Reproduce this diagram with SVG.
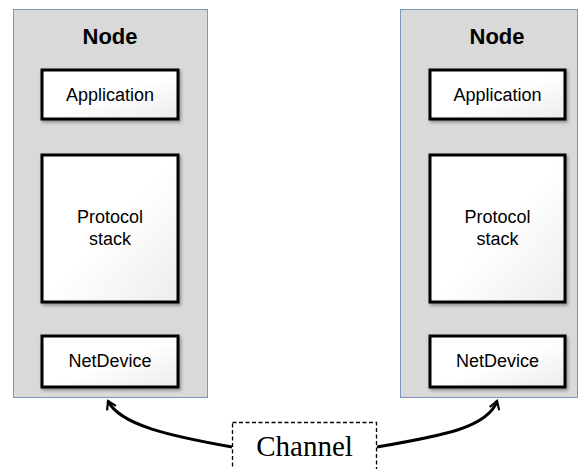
<svg xmlns="http://www.w3.org/2000/svg" width="584" height="469" viewBox="0 0 584 469">
<style>
.panel{fill:#d9d9d9;stroke:#7a96bd;stroke-width:1}
.box{fill:url(#bev);stroke:#000;stroke-width:3}
.t{font-family:"Liberation Sans",Arial,sans-serif;font-size:18px;fill:#000;text-anchor:middle}
.h{font-family:"Liberation Sans",Arial,sans-serif;font-size:22px;font-weight:bold;fill:#000;text-anchor:middle}
.conn{fill:none;stroke:#000;stroke-width:3}
</style>
<defs>
<linearGradient id="bev" x1="0" y1="0" x2="1" y2="1">
<stop offset="0" stop-color="#ffffff"/>
<stop offset="0.5" stop-color="#ffffff"/>
<stop offset="1" stop-color="#ececec"/>
</linearGradient>
<filter id="sh" x="-10%" y="-10%" width="130%" height="130%">
<feDropShadow dx="1.5" dy="2" stdDeviation="1.5" flood-color="#000" flood-opacity="0.35"/>
</filter>
<marker id="arr" viewBox="0 0 12 12" refX="9" refY="6" markerWidth="4" markerHeight="4" orient="auto" markerUnits="strokeWidth">
<path d="M1,1 L9,6 L1,11" fill="none" stroke="#000" stroke-width="2.2"/>
</marker>
</defs>
<g id="node-left">
<rect class="panel" x="13.5" y="9.5" width="194" height="388"/>
<text class="h" x="110" y="44">Node</text>
<g id="app-left"><rect class="box" filter="url(#sh)" x="42" y="70" width="136" height="49"/><text class="t" x="110" y="101">Application</text></g>
<g id="stack-left"><rect class="box" filter="url(#sh)" x="42" y="155" width="136" height="147"/><text class="t" x="110" y="223">Protocol</text><text class="t" x="110" y="245">stack</text></g>
<g id="dev-left"><rect class="box" filter="url(#sh)" x="42" y="336" width="136" height="51"/><text class="t" x="110" y="367">NetDevice</text></g>
</g>
<g id="node-right">
<rect class="panel" x="400.5" y="9.5" width="177" height="388"/>
<text class="h" x="497" y="44">Node</text>
<g id="app-right"><rect class="box" filter="url(#sh)" x="430" y="70" width="135" height="49"/><text class="t" x="497.5" y="101">Application</text></g>
<g id="stack-right"><rect class="box" filter="url(#sh)" x="430" y="155" width="135" height="147"/><text class="t" x="497.5" y="223">Protocol</text><text class="t" x="497.5" y="245">stack</text></g>
<g id="dev-right"><rect class="box" filter="url(#sh)" x="430" y="336" width="135" height="51"/><text class="t" x="497.5" y="367">NetDevice</text></g>
</g>
<g id="connectors">
<path class="conn" d="M232,447 C170,436 120,425 108,401" marker-end="url(#arr)"/>
<path class="conn" d="M377,447 C440,436 488,428 497,401" marker-end="url(#arr)"/>
</g>
<g id="channel">
<rect x="232.5" y="422.5" width="144" height="60" fill="#fff" stroke="#000" stroke-width="1.3" stroke-dasharray="4,2.5"/>
<text x="304.5" y="456" font-family="'Liberation Serif','Times New Roman',serif" font-size="29" text-anchor="middle">Channel</text>
</g>
</svg>
